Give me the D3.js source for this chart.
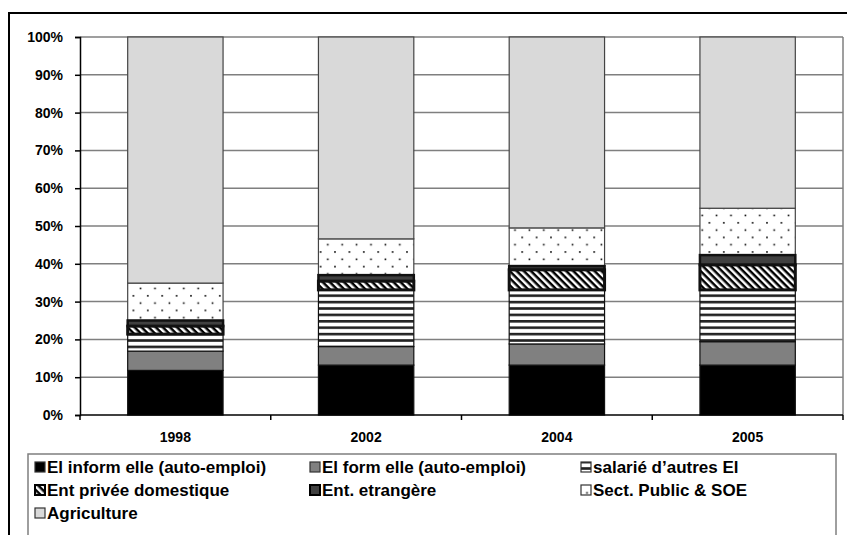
<!DOCTYPE html>
<html><head><meta charset="utf-8">
<script src="https://cdn.jsdelivr.net/npm/d3@7"></script>
<style>
html,body{margin:0;padding:0;background:#fff;}
svg{display:block;}
text{font-family:"Liberation Sans",Arial,sans-serif;font-weight:bold;font-size:14px;fill:#000;}
</style></head>
<body>
<script>
const years = ["1998","2002","2004","2005"];
const seriesNames = ["El inform elle (auto-emploi)","El form elle (auto-emploi)","salarié d\u2019autres El","Ent privée domestique","Ent. etrangère","Sect. Public & SOE","Agriculture"];
const elInform   = [11.8, 13.2, 13.2, 13.2];
const elForm     = [5.1, 4.9, 5.6, 6.2];
const salarie    = [4.5, 15.0, 14.3, 13.7];
const domestique = [2.1, 2.3, 5.3, 6.6];
const etrangere  = [1.5, 1.6, 1.0, 2.6];
const publicSOE  = [9.9, 9.6, 10.1, 12.4];
const agriculture= [65.1, 53.4, 50.5, 45.3];
const yTicks = [0,10,20,30,40,50,60,70,80,90,100];

const W = 847, H = 535;
const svg = d3.select("body").append("svg").attr("width", W).attr("height", H);
const defs = svg.append("defs");

// patterns
const pStripe = defs.append("pattern").attr("id","pStripe").attr("patternUnits","userSpaceOnUse").attr("width",8).attr("height",6.4);
pStripe.append("rect").attr("width",8).attr("height",6.4).attr("fill","#fff");
pStripe.append("rect").attr("y",0).attr("width",8).attr("height",2.6).attr("fill","#222");

const pHatch = defs.append("pattern").attr("id","pHatch").attr("patternUnits","userSpaceOnUse").attr("width",5).attr("height",5).attr("patternTransform","rotate(-45)");
pHatch.append("rect").attr("width",5).attr("height",5).attr("fill","#000");
pHatch.append("rect").attr("x",0).attr("width",2.5).attr("height",5).attr("fill","#fff");

const pDots = defs.append("pattern").attr("id","pDots").attr("patternUnits","userSpaceOnUse").attr("width",14.4).attr("height",14.6);
pDots.append("rect").attr("width",14.4).attr("height",14.6).attr("fill","#fff");
pDots.append("rect").attr("x",3).attr("y",3).attr("width",1.6).attr("height",1.6).attr("fill","#000");
pDots.append("rect").attr("x",10.2).attr("y",10.3).attr("width",1.6).attr("height",1.6).attr("fill","#000");

const fills = ["#000000","#808080","url(#pStripe)","url(#pHatch)","#404040","url(#pDots)","#d9d9d9"];
const strokeW = [1.2,1.2,1.2,3,2.5,1.2,1.2];

// frame
svg.append("rect").attr("x",9).attr("y",13).attr("width",W).attr("height",H).attr("fill","none").attr("stroke","#000").attr("stroke-width",2);

const x = d3.scaleBand().domain(years).range([80,843]).paddingInner(0.5).paddingOuter(0.25);
const y = d3.scaleLinear().domain([0,100]).range([415,37]);

// gridlines
svg.append("g").selectAll("line").data(yTicks.filter(d=>d>0)).join("line")
  .attr("x1",80).attr("x2",843).attr("y1",d=>y(d)).attr("y2",d=>y(d))
  .attr("stroke","#7f7f7f").attr("stroke-width",1.5);
svg.append("line").attr("x1",843).attr("x2",843).attr("y1",y(100)).attr("y2",y(0)).attr("stroke","#7f7f7f").attr("stroke-width",1.5);

// stack
const table = years.map((yr,i)=>({year:yr, s0:elInform[i], s1:elForm[i], s2:salarie[i], s3:domestique[i], s4:etrangere[i], s5:publicSOE[i], s6:agriculture[i]}));
const keys = ["s0","s1","s2","s3","s4","s5","s6"];
const stacked = d3.stack().keys(keys)(table);

const order = [0,1,2,5,6,4,3];
order.forEach(k=>{
  svg.append("g").selectAll("rect").data(stacked[k]).join("rect")
    .attr("x",d=>x(d.data.year)).attr("width",x.bandwidth())
    .attr("y",d=>y(d[1])).attr("height",d=>y(d[0])-y(d[1]))
    .attr("fill",fills[k]).attr("stroke", k===6||k===5 ? "#444" : "#111").attr("stroke-width",strokeW[k]);
});

// y axis
const yAxis = d3.axisLeft(y).tickValues(yTicks).tickFormat(d=>d+"%").tickSize(5).tickPadding(12);
const gy = svg.append("g").attr("transform","translate(80,0)").call(yAxis);
gy.select(".domain").attr("stroke","#000").attr("stroke-width",1.5);
gy.selectAll(".tick line").attr("stroke","#000").attr("stroke-width",1.5);
gy.selectAll("text").style("font-family","'Liberation Sans',Arial,sans-serif").style("font-weight","bold").style("font-size","14px").attr("fill","#000");

// x axis
svg.append("line").attr("x1",80).attr("x2",843).attr("y1",y(0)).attr("y2",y(0)).attr("stroke","#000").attr("stroke-width",1.5);
const bounds = years.map(d=>x(d)-(x.step()-x.bandwidth())/2).concat([x.range()[1]]);
svg.append("g").selectAll("line").data(bounds).join("line")
  .attr("x1",d=>d).attr("x2",d=>d).attr("y1",y(0)).attr("y2",y(0)+5).attr("stroke","#000").attr("stroke-width",1.5);
svg.append("g").selectAll("text").data(years).join("text")
  .attr("x",d=>x(d)+x.bandwidth()/2).attr("y",442).attr("text-anchor","middle").text(d=>d);

// legend
svg.append("rect").attr("x",28).attr("y",454).attr("width",808).attr("height",100).attr("fill","none").attr("stroke","#7f7f7f").attr("stroke-width",1.5);
const colX = [35,310,581];
const rowY = [467,490,513];
seriesNames.forEach((n,i)=>{
  const cx = colX[i%3], cy = rowY[Math.floor(i/3)];
  const g = svg.append("g");
  g.append("rect").attr("x",cx).attr("y",cy-5).attr("width",10).attr("height",10)
    .attr("fill",fills[i]).attr("stroke",i===3||i===4?"#000":"#333").attr("stroke-width",i===3||i===4?2:1.2);
  g.append("text").attr("x",cx+12).attr("y",cy+6).style("font-size","17px").text(n);
});
</script>
</body></html>
